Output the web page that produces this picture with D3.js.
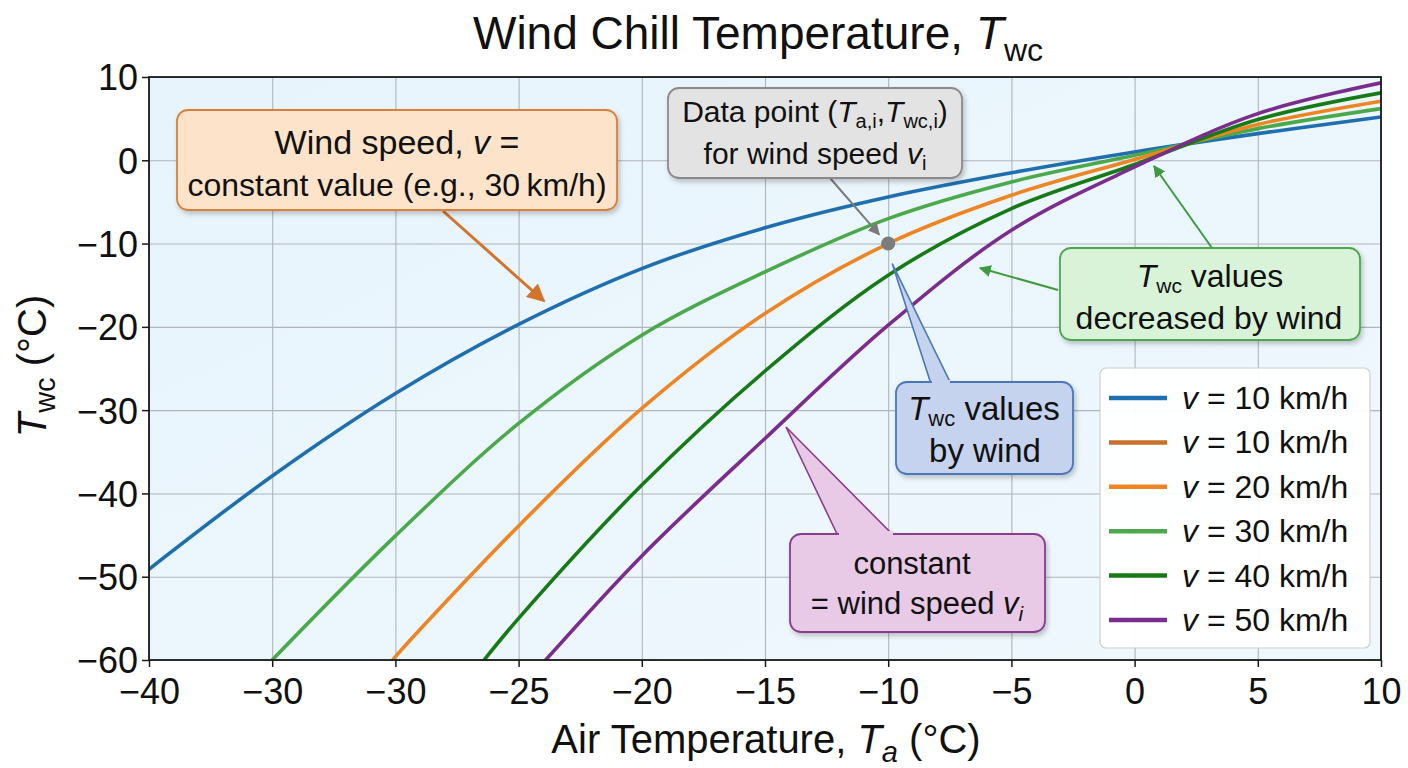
<!DOCTYPE html>
<html>
<head>
<meta charset="utf-8">
<script src="https://cdn.jsdelivr.net/npm/d3@7"></script>
<style>
  body { margin: 0; background: #fff; }
  svg { font-family: "Liberation Sans", Arial, Helvetica, sans-serif; }
</style>
</head>
<body>
<svg id="chart" width="1408" height="768"></svg>
<script>
// --- data ---
const airTemp = [-40, -35, -30, -25, -20, -15, -10, -5, 0, 5, 10];
const xTickLabels = ['−40', '−30', '−30', '−25', '−20', '−15', '−10', '−5', '0', '5', '10'];
const yTicks = [10, 0, -10, -20, -30, -40, -50, -60];

// T_wc at each air temperature (null = below the plot)
const twc10 = [-49.1, -37.9, -28.0, -19.7, -13.0, -8.1, -4.4, -1.5, 1.0, 3.2, 5.2];
const twc30 = [null, -60.0, -45.1, -31.6, -21.0, -13.4, -7.0, -2.6, 0.6, 3.8, 6.2];
const twc20 = [null, null, -59.6, -43.9, -29.8, -18.4, -10.0, -4.2, 0.1, 4.3, 7.1];
const twc40 = [null, null, null, -55.0, -39.0, -25.3, -13.8, -5.8, -0.5, 4.9, 8.1];
const twc50 = [null, null, null, null, -47.5, -33.4, -19.8, -8.4, -0.8, 5.6, 9.3];
// air temperature where each curve enters the bottom edge (T_wc = -60)
const entryTa = [null, null, -30.1, -26.4, -23.9];

const seriesNames  = ['v10', 'v30', 'v20', 'v40', 'v50'];
const seriesValues = [twc10, twc30, twc20, twc40, twc50];
const seriesColors = ['#1f6fb0', '#4ba84b', '#ee8422', '#177a17', '#7b2d8e'];

const legendSpeeds = ['10', '10', '20', '30', '40', '50'];
const legendColors = ['#1f6fb0', '#c8702c', '#ee8422', '#4ba84b', '#177a17', '#7b2d8e'];

// the highlighted data point
const pointTa = -10, pointTwc = -10;

// --- setup ---
const svg = d3.select('#chart');
const plot = { left: 149, right: 1381, top: 77, bottom: 660 };
const width = plot.right - plot.left, height = plot.bottom - plot.top;

const x = d3.scaleLinear().domain([-40, 10]).range([plot.left, plot.right]);
const y = d3.scaleLinear().domain([-60, 10]).range([plot.bottom, plot.top]);

const defs = svg.append('defs');
const bg = defs.append('linearGradient').attr('id', 'bg')
  .attr('x1', 0).attr('y1', 0).attr('x2', 1).attr('y2', 1);
bg.append('stop').attr('offset', '0%').attr('stop-color', '#e7f4fc');
bg.append('stop').attr('offset', '100%').attr('stop-color', '#eff8fd');

defs.append('filter').attr('id', 'shadow')
  .attr('x', '-10%').attr('y', '-10%').attr('width', '125%').attr('height', '130%')
  .append('feDropShadow')
    .attr('dx', 2).attr('dy', 3).attr('stdDeviation', 2.5)
    .attr('flood-color', '#000').attr('flood-opacity', 0.22);

defs.append('clipPath').attr('id', 'clip')
  .append('rect')
    .attr('x', plot.left).attr('y', plot.top)
    .attr('width', width).attr('height', height);

function arrowMarker(id, color) {
  defs.append('marker')
    .attr('id', id)
    .attr('viewBox', '0 0 10 10')
    .attr('refX', 9).attr('refY', 5)
    .attr('markerWidth', 6).attr('markerHeight', 6)
    .attr('markerUnits', 'strokeWidth')
    .attr('orient', 'auto')
    .append('path')
      .attr('d', 'M0,0 L10,5 L0,10 Z')
      .attr('fill', color);
}
arrowMarker('arrOrange', '#d2742c');
arrowMarker('arrGray', '#7a7a7a');
arrowMarker('arrGreen', '#3f9a3f');

// background
svg.append('rect')
  .attr('x', plot.left).attr('y', plot.top)
  .attr('width', width).attr('height', height)
  .attr('fill', 'url(#bg)');

// grid
svg.append('g')
  .attr('transform', `translate(0,${plot.bottom})`)
  .call(d3.axisBottom(x).tickValues(airTemp).tickSize(-height).tickFormat(''))
  .call(g => g.select('.domain').remove())
  .call(g => g.selectAll('line').attr('stroke', '#b0b5ba').attr('stroke-width', 1.1));
svg.append('g')
  .attr('transform', `translate(${plot.left},0)`)
  .call(d3.axisLeft(y).tickValues(yTicks).tickSize(-width).tickFormat(''))
  .call(g => g.select('.domain').remove())
  .call(g => g.selectAll('line').attr('stroke', '#b0b5ba').attr('stroke-width', 1.1));

// curves
const line = d3.line()
  .x(d => x(d[0]))
  .y(d => y(d[1]))
  .curve(d3.curveCatmullRom.alpha(0.5));

const curves = seriesValues.map((vals, i) => {
  const pts = [];
  if (entryTa[i] !== null) pts.push([entryTa[i], -60]);
  airTemp.forEach((t, j) => { if (vals[j] !== null) pts.push([t, vals[j]]); });
  return { name: seriesNames[i], color: seriesColors[i], pts };
});

svg.append('g')
  .attr('clip-path', 'url(#clip)')
  .selectAll('path')
  .data(curves)
  .join('path')
    .attr('d', d => line(d.pts))
    .attr('fill', 'none')
    .attr('stroke', d => d.color)
    .attr('stroke-width', 3.6)
    .attr('stroke-linecap', 'round');

// frame
svg.append('rect')
  .attr('x', plot.left).attr('y', plot.top)
  .attr('width', width).attr('height', height)
  .attr('fill', 'none')
  .attr('stroke', '#1a1a1a')
  .attr('stroke-width', 1.8);

// axes
const xAxis = svg.append('g')
  .attr('transform', `translate(0,${plot.bottom})`)
  .call(d3.axisBottom(x).tickValues(airTemp)
    .tickFormat((d, i) => xTickLabels[i]).tickSize(7).tickSizeOuter(0).tickPadding(5));
const yAxis = svg.append('g')
  .attr('transform', `translate(${plot.left},0)`)
  .call(d3.axisLeft(y).tickValues(yTicks)
    .tickFormat(d => d < 0 ? '−' + Math.abs(d) : d).tickSize(7).tickSizeOuter(0).tickPadding(4));
[xAxis, yAxis].forEach(g => {
  g.select('.domain').remove();
  g.selectAll('line').attr('stroke', '#1a1a1a').attr('stroke-width', 1.5);
  g.selectAll('text')
    .attr('fill', '#111')
    .attr('font-size', 36)
    .attr('font-family', '"Liberation Sans", Arial, sans-serif');
});
xAxis.selectAll('text').attr('dy', '0.9em');
yAxis.selectAll('text').attr('dy', '0.36em');

// title
const title = svg.append('text')
  .attr('x', 758).attr('y', 49)
  .attr('text-anchor', 'middle')
  .attr('font-size', 46)
  .attr('fill', '#111');
title.append('tspan').text('Wind Chill Temperature, ');
title.append('tspan').attr('font-style', 'italic').text('T');
title.append('tspan').attr('dy', 12).attr('font-size', 32).text('wc');

// axis labels
const xLabel = svg.append('text')
  .attr('x', 766).attr('y', 753)
  .attr('text-anchor', 'middle')
  .attr('font-size', 40)
  .attr('fill', '#111');
xLabel.append('tspan').text('Air Temperature, ');
xLabel.append('tspan').attr('font-style', 'italic').text('T');
xLabel.append('tspan').attr('font-style', 'italic').attr('dy', 9).attr('font-size', 29).text('a');
xLabel.append('tspan').attr('dy', -9).text(' (°C)');

const yLabel = svg.append('text')
  .attr('transform', 'translate(46,366) rotate(-90)')
  .attr('text-anchor', 'middle')
  .attr('font-size', 40)
  .attr('fill', '#111');
yLabel.append('tspan').attr('font-style', 'italic').text('T');
yLabel.append('tspan').attr('dy', 9).attr('font-size', 29).text('wc');
yLabel.append('tspan').attr('dy', -9).text(' (°C)');

// --- annotations ---
const notes = svg.append('g');

function box(x0, y0, w, h, fill, stroke) {
  notes.append('rect')
    .attr('x', x0).attr('y', y0).attr('width', w).attr('height', h)
    .attr('rx', 11)
    .attr('fill', fill).attr('stroke', stroke).attr('stroke-width', 1.8)
    .attr('filter', 'url(#shadow)');
}
function arrow(x1, y1, x2, y2, color, marker, w) {
  notes.append('line')
    .attr('x1', x1).attr('y1', y1).attr('x2', x2).attr('y2', y2)
    .attr('stroke', color).attr('stroke-width', w)
    .attr('marker-end', `url(#${marker})`);
}
function label(cx, cy, size) {
  return notes.append('text')
    .attr('x', cx).attr('y', cy)
    .attr('text-anchor', 'middle')
    .attr('font-size', size)
    .attr('fill', '#111');
}

// orange callout
arrow(443, 211, 544, 301, '#d2742c', 'arrOrange', 3);
box(177, 110, 440, 100, '#fde3c9', '#d8813c');
let t = label(397, 154, 34);
t.append('tspan').text('Wind speed, ');
t.append('tspan').attr('font-style', 'italic').text('v');
t.append('tspan').text(' =');
label(397, 196, 32).text('constant value (e.g., 30\u2009km/h)');

// gray callout + data point
arrow(830, 178, x(pointTa) - 9, y(pointTwc) - 9, '#7a7a7a', 'arrGray', 2);
box(668, 88, 294, 90, '#e3e3e3', '#8a8a8a');
t = label(815, 122, 30);
t.append('tspan').text('Data point (');
t.append('tspan').attr('font-style', 'italic').text('T');
t.append('tspan').attr('dy', 6).attr('font-size', 20).text('a,i');
t.append('tspan').attr('dy', -6).text(',');
t.append('tspan').attr('font-style', 'italic').text('T');
t.append('tspan').attr('dy', 6).attr('font-size', 20).text('wc,i');
t.append('tspan').attr('dy', -6).text(')');
t = label(815, 164, 30);
t.append('tspan').text('for wind speed ');
t.append('tspan').attr('font-style', 'italic').text('v');
t.append('tspan').attr('dy', 6).attr('font-size', 20).text('i');

svg.append('circle')
  .attr('cx', x(pointTa)).attr('cy', y(pointTwc)).attr('r', 7)
  .attr('fill', '#7c7c7c');

// green callout
arrow(1212, 248, 1154, 166, '#3f9a3f', 'arrGreen', 2);
arrow(1058, 290, 980, 268, '#3f9a3f', 'arrGreen', 2);
box(1060, 248, 300, 92, '#d9f3d9', '#4ea64e');
t = label(1210, 287, 32);
t.append('tspan').attr('font-style', 'italic').text('T');
t.append('tspan').attr('dy', 6).attr('font-size', 21).text('wc');
t.append('tspan').attr('dy', -6).text(' values');
label(1209, 329, 32).text('decreased by wind');

// blue speech bubble
const blueTip = [x(pointTa) + 4, y(pointTwc) + 20];
notes.append('path')
  .attr('d', `M931,384 L${blueTip[0]},${blueTip[1]} L951,384 Z`)
  .attr('fill', '#c6d3ee').attr('stroke', '#4a78b8').attr('stroke-width', 1.6);
box(896, 382, 177, 92, '#c6d3ee', '#4a78b8');
notes.append('rect')
  .attr('x', 932).attr('y', 380).attr('width', 18).attr('height', 5)
  .attr('fill', '#c6d3ee');
t = label(984, 420, 33);
t.append('tspan').attr('font-style', 'italic').text('T');
t.append('tspan').attr('dy', 6).attr('font-size', 22).text('wc');
t.append('tspan').attr('dy', -6).text(' values');
label(985, 462, 33).text('by wind');

// purple speech bubble
notes.append('path')
  .attr('d', 'M838,536 L786,427 L894,536 Z')
  .attr('fill', '#e8c9e6').attr('stroke', '#8a3d8f').attr('stroke-width', 1.6);
box(790, 534, 255, 98, '#e8c9e6', '#8a3d8f');
notes.append('rect')
  .attr('x', 839).attr('y', 531).attr('width', 54).attr('height', 5)
  .attr('fill', '#e8c9e6');
label(912, 574, 31).text('constant');
t = label(917, 614, 31);
t.append('tspan').text('= wind speed ');
t.append('tspan').attr('font-style', 'italic').text('v');
t.append('tspan').attr('font-style', 'italic').attr('dy', 7).attr('font-size', 21).text('i');

// --- legend ---
const legend = svg.append('g');
legend.append('rect')
  .attr('x', 1100).attr('y', 368).attr('width', 270).attr('height', 280)
  .attr('rx', 6)
  .attr('fill', '#fff').attr('fill-opacity', 0.95)
  .attr('stroke', '#cfcfcf').attr('stroke-width', 1.2);

const ly = d3.scalePoint().domain(d3.range(legendSpeeds.length)).range([398, 620]);
const items = legend.selectAll('g.item')
  .data(legendSpeeds)
  .join('g')
    .attr('class', 'item')
    .attr('transform', (d, i) => `translate(1109,${ly(i)})`);
items.append('line')
  .attr('x1', 0).attr('x2', 58)
  .attr('stroke', (d, i) => legendColors[i])
  .attr('stroke-width', 4.5);
const lt = items.append('text')
  .attr('x', 73).attr('y', 11)
  .attr('font-size', 32)
  .attr('fill', '#111');
lt.append('tspan').attr('font-style', 'italic').text('v');
lt.append('tspan').text(d => ` = ${d} km/h`);
</script>
</body>
</html>
